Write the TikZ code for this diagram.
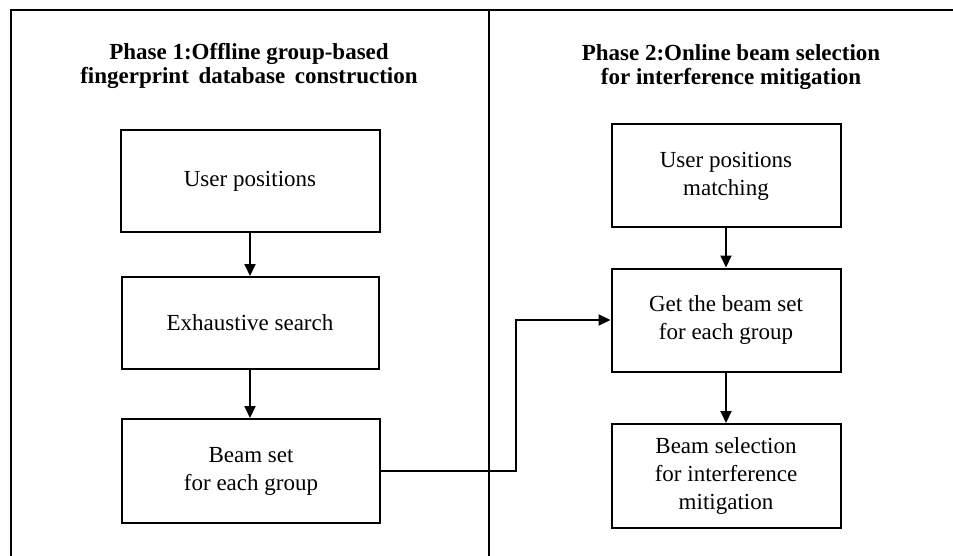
\documentclass[tikz,border=0pt]{standalone}
\usepackage{fontspec}
\setmainfont{Liberation Serif}
\usetikzlibrary{arrows.meta}
\begin{document}
\begin{tikzpicture}[x=1pt, y=-1pt,
    stepbox/.style={draw=black, line width=2pt, align=center, inner sep=2pt, font=\fontsize{23}{28}\selectfont},
    phase/.style={align=center, font=\fontsize{23}{24}\selectfont\bfseries},
    arr/.style={line width=2pt, -{Triangle[length=12pt, width=11pt]}}]
  \useasboundingbox (0,0) rectangle (953,556);
  % frame and split
  \draw[line width=2pt] (11,556) -- (11,10) -- (953,10);
  \draw[line width=2pt] (489,10) -- (489,556);
  % phase 1
  \node[phase] (title1) at (249,66) {Phase 1:Offline group-based\\fingerprint\, database\, construction};
  \node[stepbox, minimum width=259pt, minimum height=102pt] (userpos) at (250,181) {User positions};
  \node[stepbox, minimum width=257pt, minimum height=92pt] (search) at (250,323) {Exhaustive search};
  \node[stepbox, minimum width=258pt, minimum height=104pt] (beamset) at (251,471) {Beam set\\for each group};
  % phase 2
  \node[phase] (title2) at (731,67) {Phase 2:Online beam selection\\for interference mitigation};
  \node[stepbox, minimum width=229pt, minimum height=103pt] (match) at (726,176) {User positions\\matching};
  \node[stepbox, minimum width=229pt, minimum height=103pt] (getset) at (726,320) {Get the beam set\\for each group};
  \node[stepbox, minimum width=229pt, minimum height=104pt] (select) at (726,476) {Beam selection\\for interference\\mitigation};
  % arrows
  \draw[arr] (userpos) -- (search);
  \draw[arr] (search) -- (beamset.north -| search);
  \draw[arr] (match) -- (getset);
  \draw[arr] (getset) -- (select);
  \coordinate (bend) at (516,471);
  \draw[arr] (beamset.east) -- (bend) |- (getset.west);
\end{tikzpicture}
\end{document}
